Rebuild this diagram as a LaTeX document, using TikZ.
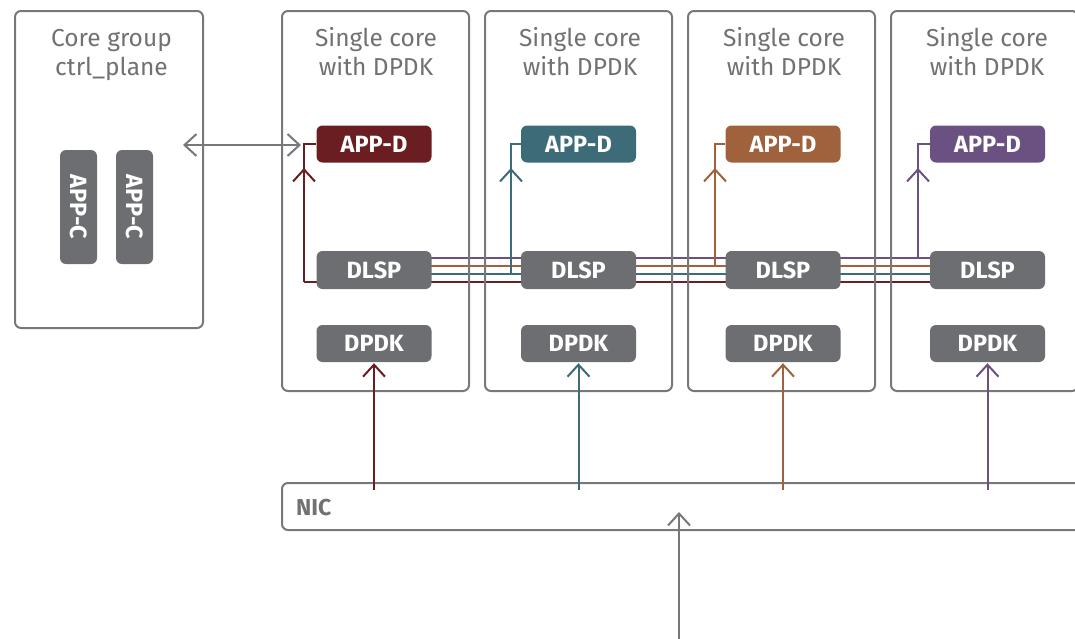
\documentclass[tikz,border=0pt]{standalone}
\usepackage{fontspec}
\setmainfont{Fira Sans}
\usetikzlibrary{arrows.meta,decorations.markings,backgrounds}
\definecolor{gframe}{HTML}{77787B}
\definecolor{gbox}{HTML}{6D6E71}
\definecolor{gtext}{HTML}{707173}
\definecolor{cred}{HTML}{6A1E22}
\definecolor{cteal}{HTML}{3E6B78}
\definecolor{cbrown}{HTML}{A0623C}
\definecolor{cpurple}{HTML}{6B5182}
\begin{document}
\begin{tikzpicture}[x=1pt,y=-1pt,
  frame/.style={draw=gframe, line width=2pt, rounded corners=6pt, inner sep=0pt},
  blk/.style={rounded corners=6pt, minimum width=115pt, minimum height=37pt, text=white,
    font=\bfseries\fontsize{23.5}{23.5}\selectfont, inner sep=0pt},
  greyblk/.style={blk, fill=gbox},
  title/.style={text=gtext, align=center, font=\fontsize{24.5}{28.3}\selectfont, anchor=base},
  barbtip/.tip={Straight Barb[length=12pt,width=22pt]},
  conn/.style={line width=2pt},
  midbarb/.style={postaction={decorate, decoration={markings,
    mark=at position #1 with {\arrow{barbtip}}}}}]
\useasboundingbox (0,0) rectangle (1075,638);

% frames
\node[frame, minimum width=188pt, minimum height=317pt] (ctrl) at (109,169.5) {};
\node[frame, minimum width=187pt, minimum height=380pt] (core1) at (375.5,201) {};
\node[frame, minimum width=187pt, minimum height=380pt] (core2) at (578.5,201) {};
\node[frame, minimum width=187pt, minimum height=380pt] (core3) at (781.5,201) {};
\node[frame, minimum width=187pt, minimum height=380pt] (core4) at (984.5,201) {};
\node[frame, minimum width=820pt, minimum height=47pt] (nic) at (692,506.5) {};
\node[text=gtext, font=\bfseries\fontsize{23}{23}\selectfont, anchor=base west, inner sep=0pt] (niclbl) at (296,515) {NIC};

% titles (base anchor = baseline of last line)
\node[title] (t0) at (111.5,75) {Core group\\ctrl\_plane};
\node[title] (t1) at (376,75) {Single core\\with DPDK};
\node[title] (t2) at (580,75) {Single core\\with DPDK};
\node[title] (t3) at (784,75) {Single core\\with DPDK};
\node[title] (t4) at (987,75) {Single core\\with DPDK};

% APP-C
\node[greyblk, minimum width=114pt, minimum height=37pt, rotate=-90] (appc1) at (78.5,207) {APP-C};
\node[greyblk, minimum width=114pt, minimum height=37pt, rotate=-90] (appc2) at (134.5,207) {APP-C};

% APP-D
\node[blk, fill=cred] (appd1) at (374,144) {APP-D};
\node[blk, fill=cteal] (appd2) at (578.5,144) {APP-D};
\node[blk, fill=cbrown] (appd3) at (783,144) {APP-D};
\node[blk, fill=cpurple] (appd4) at (987.5,144) {APP-D};

% DLSP
\node[greyblk, minimum height=38pt] (dlsp1) at (374,270) {DLSP};
\node[greyblk, minimum height=38pt] (dlsp2) at (578.5,270) {DLSP};
\node[greyblk, minimum height=38pt] (dlsp3) at (783,270) {DLSP};
\node[greyblk, minimum height=38pt] (dlsp4) at (987.5,270) {DLSP};

% DPDK
\node[greyblk] (dpdk1) at (374,343.5) {DPDK};
\node[greyblk] (dpdk2) at (578.5,343.5) {DPDK};
\node[greyblk] (dpdk3) at (783,343.5) {DPDK};
\node[greyblk] (dpdk4) at (987.5,343.5) {DPDK};

% coordinates
\coordinate (yP) at (0,258);
\coordinate (yB) at (0,266);
\coordinate (yT) at (0,274);
\coordinate (yR) at (0,282);
\coordinate (r0) at (304,282);
\coordinate (t0c) at (511,274);
\coordinate (b0) at (715,266);
\coordinate (p0) at (918,258);
\coordinate (nicy) at (0,490);
\coordinate (ca) at (183,145);
\coordinate (cb) at (301,145);
\coordinate (bin) at (679,642);
\coordinate (nicin) at (679,512);

\begin{scope}[on background layer]
  \draw[conn, cpurple] (dlsp1 |- yP) -- (dlsp4 |- yP);
  \draw[conn, cbrown] (dlsp1 |- yB) -- (dlsp4 |- yB);
  \draw[conn, cteal] (dlsp1 |- yT) -- (dlsp4 |- yT);
  \draw[conn, cred] (r0) -- (dlsp4 |- yR);
  \draw[conn, cred, midbarb=114pt] (r0) |- (appd1.west);
  \draw[conn, cteal, midbarb=106pt] (t0c) |- (appd2.west);
  \draw[conn, cbrown, midbarb=98pt] (b0) |- (appd3.west);
  \draw[conn, cpurple, midbarb=90pt] (p0) |- (appd4.west);
\end{scope}

\draw[conn, gframe, barbtip-barbtip] (ca) -- (cb);
\draw[conn, cred, -barbtip, shorten >=1pt] (dpdk1 |- nicy) -- (dpdk1.south);
\draw[conn, cteal, -barbtip, shorten >=1pt] (dpdk2 |- nicy) -- (dpdk2.south);
\draw[conn, cbrown, -barbtip, shorten >=1pt] (dpdk3 |- nicy) -- (dpdk3.south);
\draw[conn, cpurple, -barbtip, shorten >=1pt] (dpdk4 |- nicy) -- (dpdk4.south);
\draw[conn, gframe, -barbtip] (bin) -- (nicin);
\end{tikzpicture}
\end{document}
